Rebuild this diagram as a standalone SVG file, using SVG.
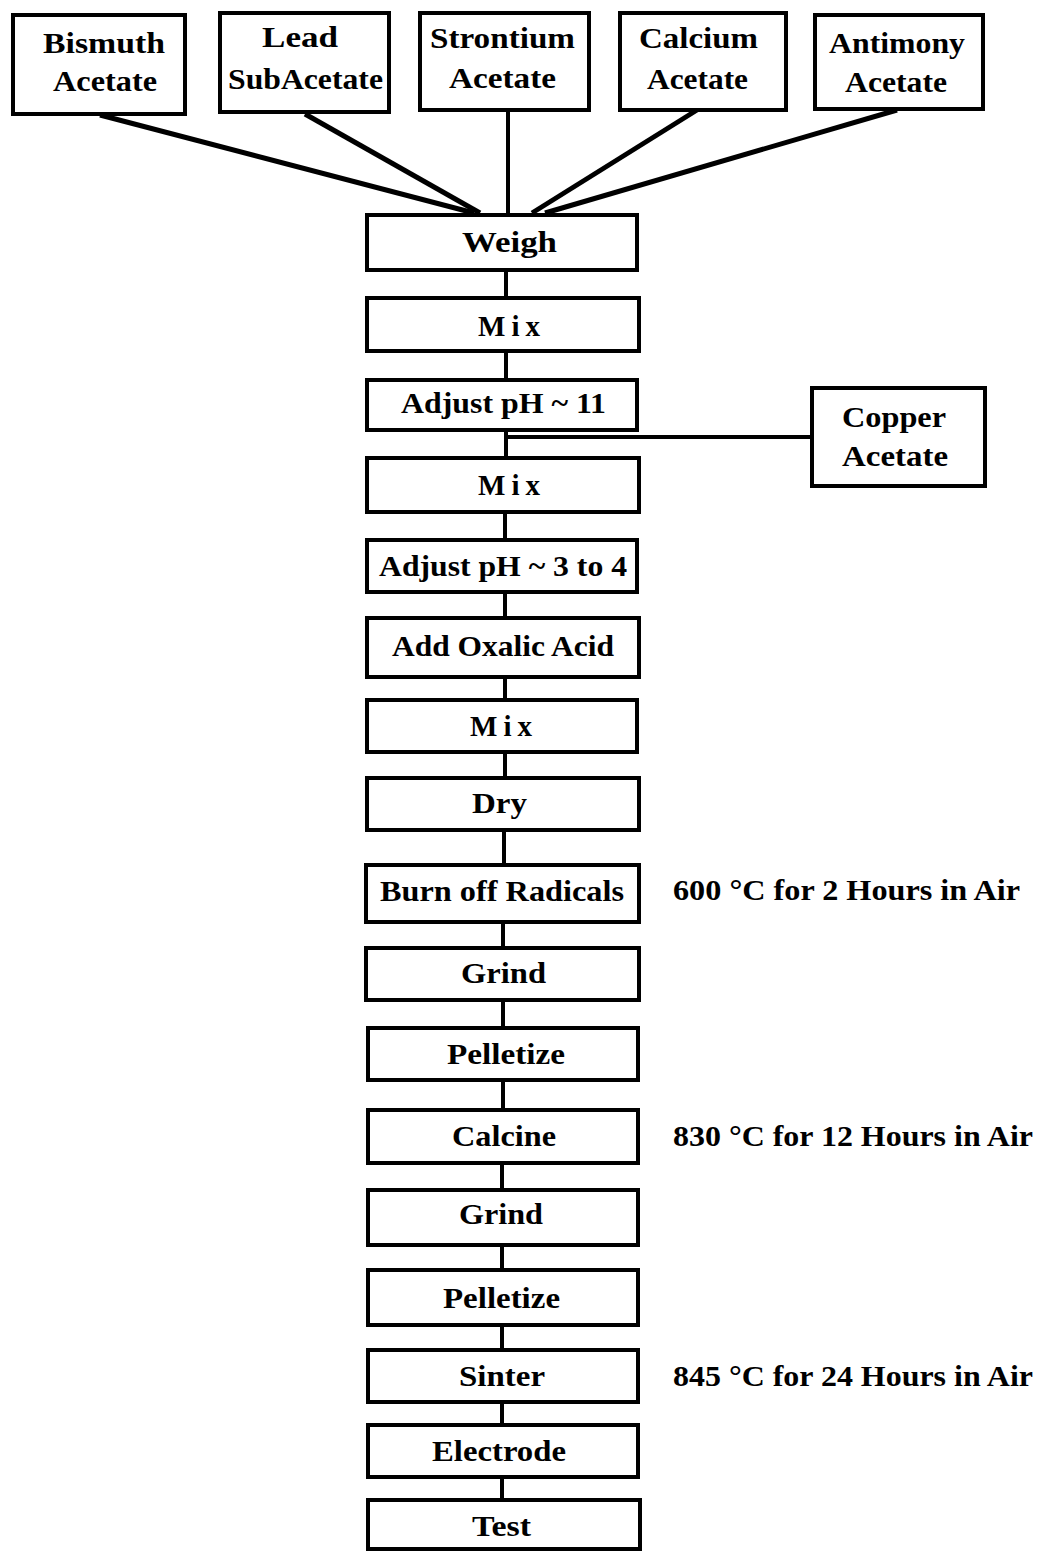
<svg xmlns="http://www.w3.org/2000/svg" width="1039" height="1551" viewBox="0 0 1039 1551">
<style>
.box{fill:#fff;stroke:#000;stroke-width:4}
.t{font-family:"Liberation Serif",serif;font-weight:bold;font-size:29px;fill:#000}
.ln{stroke:#000;stroke-width:4;fill:none}
.dg{stroke:#000;stroke-width:5;fill:none}
</style>
<rect width="1039" height="1551" fill="#fff"/>
<g id="connectors">
<line class="dg" x1="100" y1="115" x2="474" y2="213"/>
<line class="dg" x1="305" y1="114" x2="480" y2="213"/>
<line class="ln" x1="508" y1="110" x2="508" y2="213"/>
<line class="dg" x1="697" y1="110" x2="532" y2="213"/>
<line class="dg" x1="897" y1="110" x2="545" y2="213"/>
<line class="ln" x1="506" y1="270" x2="506" y2="298"/>
<line class="ln" x1="506" y1="352" x2="506" y2="380"/>
<line class="ln" x1="506" y1="430" x2="506" y2="457"/>
<line class="ln" x1="506" y1="437" x2="811" y2="437"/>
<line class="ln" x1="505" y1="512" x2="505" y2="540"/>
<line class="ln" x1="505" y1="592" x2="505" y2="618"/>
<line class="ln" x1="505" y1="677" x2="505" y2="700"/>
<line class="ln" x1="505" y1="752" x2="505" y2="778"/>
<line class="ln" x1="504" y1="830" x2="504" y2="865"/>
<line class="ln" x1="503" y1="922" x2="503" y2="948"/>
<line class="ln" x1="503" y1="1000" x2="503" y2="1028"/>
<line class="ln" x1="503" y1="1080" x2="503" y2="1110"/>
<line class="ln" x1="502" y1="1163" x2="502" y2="1190"/>
<line class="ln" x1="502" y1="1245" x2="502" y2="1270"/>
<line class="ln" x1="502" y1="1325" x2="502" y2="1350"/>
<line class="ln" x1="502" y1="1402" x2="502" y2="1425"/>
<line class="ln" x1="502" y1="1477" x2="502" y2="1500"/>
</g>
<g id="bismuth"><rect class="box" x="13" y="15" width="172" height="99"/><text class="t" x="43" y="53" textLength="122" lengthAdjust="spacingAndGlyphs">Bismuth</text><text class="t" x="53" y="91" textLength="104" lengthAdjust="spacingAndGlyphs">Acetate</text></g>
<g id="lead"><rect class="box" x="220" y="13" width="169" height="99"/><text class="t" x="262" y="47" textLength="76" lengthAdjust="spacingAndGlyphs">Lead</text><text class="t" x="228" y="89" textLength="155" lengthAdjust="spacingAndGlyphs">SubAcetate</text></g>
<g id="strontium"><rect class="box" x="420" y="13" width="169" height="97"/><text class="t" x="430" y="48" textLength="145" lengthAdjust="spacingAndGlyphs">Strontium</text><text class="t" x="449" y="88" textLength="107" lengthAdjust="spacingAndGlyphs">Acetate</text></g>
<g id="calcium"><rect class="box" x="620" y="13" width="166" height="97"/><text class="t" x="639" y="48" textLength="119" lengthAdjust="spacingAndGlyphs">Calcium</text><text class="t" x="647" y="89" textLength="101" lengthAdjust="spacingAndGlyphs">Acetate</text></g>
<g id="antimony"><rect class="box" x="815" y="15" width="168" height="94"/><text class="t" x="829" y="53" textLength="136" lengthAdjust="spacingAndGlyphs">Antimony</text><text class="t" x="845" y="92" textLength="102" lengthAdjust="spacingAndGlyphs">Acetate</text></g>
<g id="weigh"><rect class="box" x="367" y="215" width="270" height="55"/><text class="t" x="462" y="252" textLength="95" lengthAdjust="spacingAndGlyphs">Weigh</text></g>
<g id="mix1"><rect class="box" x="367" y="298" width="272" height="53"/><text class="t" x="478" y="336" textLength="62" lengthAdjust="spacing">Mix</text></g>
<g id="ph11"><rect class="box" x="367" y="380" width="270" height="50"/><text class="t" x="401" y="413" textLength="205" lengthAdjust="spacingAndGlyphs">Adjust pH ~ 11</text></g>
<g id="copper"><rect class="box" x="812" y="388" width="173" height="98"/><text class="t" x="842" y="427" textLength="104" lengthAdjust="spacingAndGlyphs">Copper</text><text class="t" x="842" y="466" textLength="106" lengthAdjust="spacingAndGlyphs">Acetate</text></g>
<g id="mix2"><rect class="box" x="367" y="458" width="272" height="54"/><text class="t" x="478" y="495" textLength="62" lengthAdjust="spacing">Mix</text></g>
<g id="ph34"><rect class="box" x="367" y="540" width="270" height="52"/><text class="t" x="379" y="576" textLength="248" lengthAdjust="spacingAndGlyphs">Adjust pH ~ 3 to 4</text></g>
<g id="oxalic"><rect class="box" x="367" y="618" width="272" height="59"/><text class="t" x="392" y="656" textLength="222" lengthAdjust="spacingAndGlyphs">Add Oxalic Acid</text></g>
<g id="mix3"><rect class="box" x="367" y="700" width="270" height="52"/><text class="t" x="470" y="736" textLength="62" lengthAdjust="spacing">Mix</text></g>
<g id="dry"><rect class="box" x="367" y="778" width="272" height="52"/><text class="t" x="472" y="813" textLength="55" lengthAdjust="spacingAndGlyphs">Dry</text></g>
<g id="burn"><rect class="box" x="366" y="865" width="273" height="57"/><text class="t" x="380" y="901" textLength="244" lengthAdjust="spacingAndGlyphs">Burn off Radicals</text></g>
<text class="t" x="673" y="900" textLength="347" lengthAdjust="spacingAndGlyphs">600 °C for 2 Hours in Air</text>
<g id="grind1"><rect class="box" x="366" y="948" width="273" height="52"/><text class="t" x="461" y="983" textLength="85" lengthAdjust="spacingAndGlyphs">Grind</text></g>
<g id="pellet1"><rect class="box" x="368" y="1028" width="270" height="52"/><text class="t" x="447" y="1064" textLength="118" lengthAdjust="spacingAndGlyphs">Pelletize</text></g>
<g id="calcine"><rect class="box" x="368" y="1110" width="270" height="53"/><text class="t" x="452" y="1146" textLength="104" lengthAdjust="spacingAndGlyphs">Calcine</text></g>
<text class="t" x="673" y="1146" textLength="360" lengthAdjust="spacingAndGlyphs">830 °C for 12 Hours in Air</text>
<g id="grind2"><rect class="box" x="368" y="1190" width="270" height="55"/><text class="t" x="459" y="1224" textLength="84" lengthAdjust="spacingAndGlyphs">Grind</text></g>
<g id="pellet2"><rect class="box" x="368" y="1270" width="270" height="55"/><text class="t" x="443" y="1308" textLength="117" lengthAdjust="spacingAndGlyphs">Pelletize</text></g>
<g id="sinter"><rect class="box" x="368" y="1350" width="270" height="52"/><text class="t" x="459" y="1386" textLength="86" lengthAdjust="spacingAndGlyphs">Sinter</text></g>
<text class="t" x="673" y="1386" textLength="360" lengthAdjust="spacingAndGlyphs">845 °C for 24 Hours in Air</text>
<g id="electrode"><rect class="box" x="368" y="1425" width="270" height="52"/><text class="t" x="432" y="1461" textLength="134" lengthAdjust="spacingAndGlyphs">Electrode</text></g>
<g id="test"><rect class="box" x="368" y="1500" width="272" height="49"/><text class="t" x="472" y="1536" textLength="59" lengthAdjust="spacingAndGlyphs">Test</text></g>
</svg>
